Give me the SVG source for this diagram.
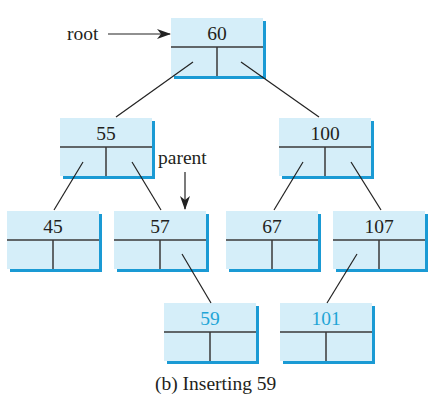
<svg xmlns="http://www.w3.org/2000/svg" width="443" height="412" viewBox="0 0 443 412">
<defs>
<style>
.sh{fill:#1a9ad4}
.bx{fill:#d5eef9}
.dv{stroke:#3a3a3a;stroke-width:1.5;fill:none}
.ln{stroke:#222;stroke-width:1.2;fill:none}
.t{font-family:"Liberation Serif","Times New Roman",serif;font-size:19.5px;fill:#231f20}
.k{text-anchor:middle}
.new{fill:#1fa5d6}
</style>
<symbol id="node" overflow="visible">
<rect class="sh" x="3" y="3" width="92" height="58"/>
<rect class="bx" x="0" y="0" width="92" height="58"/>
<path class="dv" d="M0 29H92M46 29V58"/>
</symbol>
<marker id="ah" markerWidth="14" markerHeight="10" refX="13" refY="5" orient="auto" markerUnits="userSpaceOnUse">
<path d="M0 0L14 5L0 10L4 5Z" fill="#222"/>
</marker>
</defs>
<g id="nodes">
<g id="n60"><use href="#node" x="171" y="18"/><text class="t k" x="217" y="39.5">60</text></g>
<g id="n55"><use href="#node" x="60" y="118"/><text class="t k" x="106" y="139.5">55</text></g>
<g id="n100"><use href="#node" x="279" y="118"/><text class="t k" x="325" y="139.5">100</text></g>
<g id="n45"><use href="#node" x="7" y="211"/><text class="t k" x="53" y="232.5">45</text></g>
<g id="n57"><use href="#node" x="114" y="211"/><text class="t k" x="160" y="232.5">57</text></g>
<g id="n67"><use href="#node" x="226" y="211"/><text class="t k" x="272" y="232.5">67</text></g>
<g id="n107"><use href="#node" x="333" y="211"/><text class="t k" x="379" y="232.5">107</text></g>
<g id="n59"><use href="#node" x="164" y="303"/><text class="t k new" x="210" y="324.5">59</text></g>
<g id="n101"><use href="#node" x="280" y="303"/><text class="t k new" x="326" y="324.5">101</text></g>
</g>
<g id="connectors">
<path class="ln" d="M193 62L116 117"/>
<path class="ln" d="M241 62L319 117"/>
<path class="ln" d="M83 162L54 210"/>
<path class="ln" d="M132 162L161 210"/>
<path class="ln" d="M303 162L274 210"/>
<path class="ln" d="M351 162L381 210"/>
<path class="ln" d="M182 254L211 303"/>
<path class="ln" d="M357 254L327 303"/>
<path class="ln" d="M108 34H170" marker-end="url(#ah)"/>
<path class="ln" d="M185 172V209" marker-end="url(#ah)"/>
</g>
<g id="labels">
<text class="t" x="67" y="39.5">root</text>
<text class="t" x="158" y="164">parent</text>
<text class="t" x="155" y="390">(b) Inserting 59</text>
</g>
</svg>
